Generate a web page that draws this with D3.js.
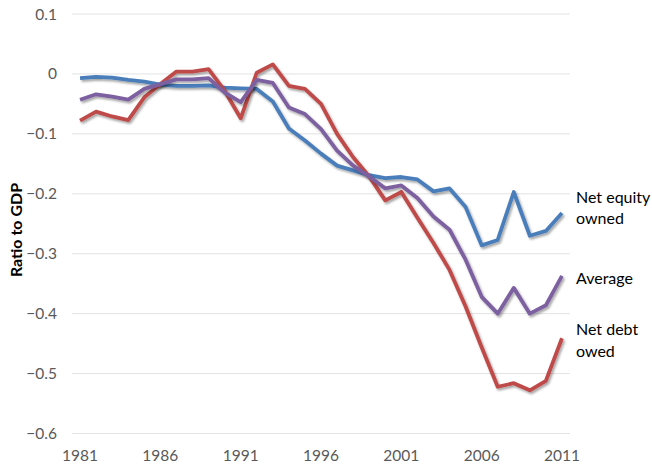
<!DOCTYPE html>
<html>
<head>
<meta charset="utf-8">
<script src="https://cdn.jsdelivr.net/npm/d3@7"></script>
<style>
	body { margin: 0; background: #fff; }
	svg { display: block; font-family: Lato, "Open Sans", sans-serif; }
</style>
</head>
<body>
<svg id="chart" width="652" height="467"></svg>
<script>
var years = d3.range(1981, 2012)
var tickYears = [1981, 1986, 1991, 1996, 2001, 2006, 2011]
var yTicks = [0.1, 0, -0.1, -0.2, -0.3, -0.4, -0.5, -0.6]

var netEquity = [-0.007, -0.005, -0.006, -0.010, -0.013, -0.018, -0.020, -0.020, -0.019, -0.023,
	-0.024, -0.025, -0.046, -0.091, -0.111, -0.133, -0.153, -0.161, -0.169, -0.174,
	-0.172, -0.176, -0.196, -0.191, -0.222, -0.286, -0.277, -0.197, -0.270, -0.262, -0.232]
var average = [-0.043, -0.034, -0.038, -0.043, -0.025, -0.017, -0.009, -0.009, -0.007, -0.031,
	-0.047, -0.010, -0.015, -0.056, -0.067, -0.092, -0.128, -0.153, -0.171, -0.191,
	-0.186, -0.207, -0.238, -0.260, -0.310, -0.372, -0.400, -0.357, -0.400, -0.386, -0.337]
var netDebt = [-0.078, -0.063, -0.071, -0.077, -0.039, -0.017, 0.004, 0.004, 0.008, -0.028,
	-0.074, 0.002, 0.016, -0.020, -0.025, -0.050, -0.100, -0.139, -0.171, -0.211,
	-0.197, -0.240, -0.282, -0.327, -0.388, -0.456, -0.522, -0.516, -0.528, -0.512, -0.441]

var series = [
	{ name: ["Net equity", "owned"], values: netEquity, color: "#4a7ebb", label: [203, 224] },
	{ name: ["Net debt", "owed"], values: netDebt, color: "#be4b48", label: [335, 357] },
	{ name: ["Average"], values: average, color: "#7d60a0", label: [284] }
]

var svg = d3.select("#chart"),
	left = 72, right = 570

var x = d3.scalePoint().domain(years).range([left, right]).padding(0.5)
var y = d3.scaleLinear().domain([-0.6, 0.1]).range([433.5, 14])

var defs = svg.append("defs")
defs.append("filter")
	.attr("id", "shadow")
	.attr("x", "-5%").attr("y", "-5%").attr("width", "110%").attr("height", "120%")
	.append("feDropShadow")
	.attr("dx", 1.5).attr("dy", 2)
	.attr("stdDeviation", 1)
	.attr("flood-color", "#000")
	.attr("flood-opacity", 0.35)

// gridlines
svg.append("g")
	.selectAll("line")
	.data(yTicks)
	.enter()
	.append("line")
	.attr("x1", left).attr("x2", right)
	.attr("y1", function (d) { return y(d) })
	.attr("y2", function (d) { return y(d) })
	.style("stroke", "#e3e3e3")
	.style("stroke-width", 1)

// y tick labels
svg.append("g")
	.selectAll("text")
	.data(yTicks)
	.enter()
	.append("text")
	.text(function (d) { return d === 0 ? "0" : d3.format(".1f")(d) })
	.attr("x", 57)
	.attr("y", function (d) { return y(d) + 5.5 })
	.attr("text-anchor", "end")
	.style("font-size", "15.5px")
	.style("fill", "#595959")

// x tick labels
svg.append("g")
	.selectAll("text")
	.data(tickYears)
	.enter()
	.append("text")
	.text(function (d) { return d })
	.attr("x", function (d) { return x(d) })
	.attr("y", 461)
	.attr("text-anchor", "middle")
	.style("font-size", "15.5px")
	.style("fill", "#595959")

svg.append("text")
	.text("Ratio to GDP")
	.attr("transform", "translate(22,230) rotate(-90)")
	.attr("text-anchor", "middle")
	.style("font-size", "16px")
	.style("font-weight", "bold")
	.style("fill", "#000")

var line = d3.line()
	.x(function (d, i) { return x(years[i]) })
	.y(function (d) { return y(d) })

svg.append("g")
	.selectAll("path")
	.data(series)
	.enter()
	.append("path")
	.attr("d", function (d) { return line(d.values) })
	.attr("filter", "url(#shadow)")
	.style("fill", "none")
	.style("stroke", function (d) { return d.color })
	.style("stroke-width", 3.8)
	.style("stroke-linejoin", "round")

// series labels
series.forEach(function (s) {
	s.name.forEach(function (t, i) {
		svg.append("text")
			.text(t)
			.attr("x", 576)
			.attr("y", s.label[i])
			.style("font-size", "16px")
			.style("fill", "#000")
	})
})
</script>
</body>
</html>
